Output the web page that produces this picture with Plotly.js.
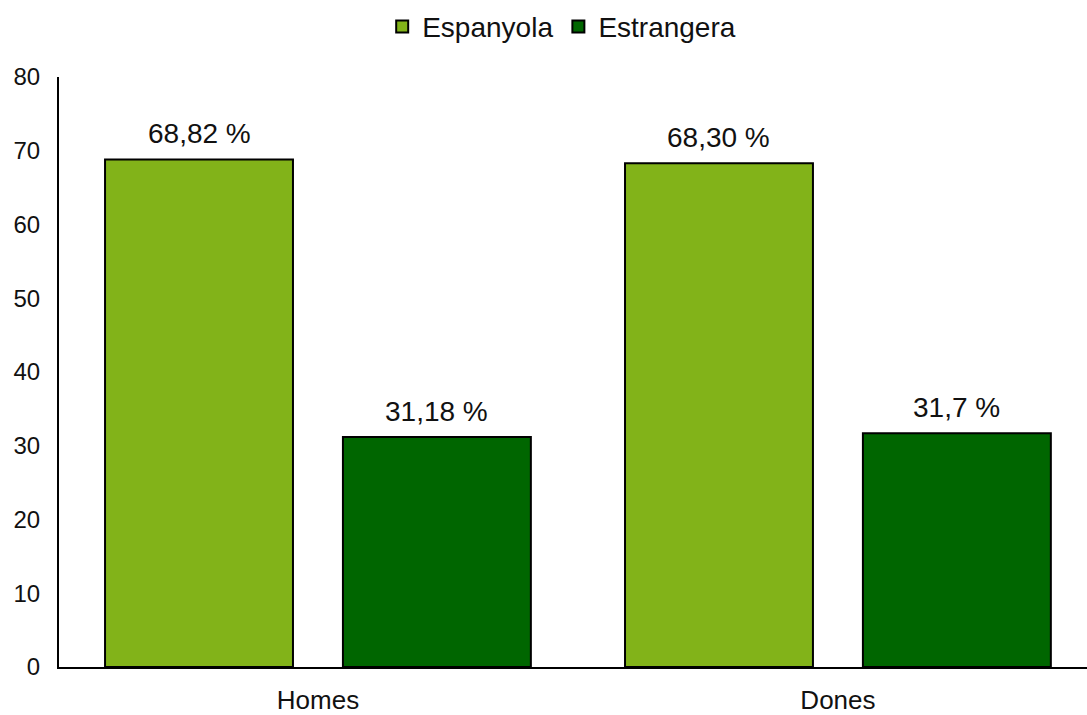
<!DOCTYPE html>
<html>
<head>
<meta charset="utf-8">
<script src="https://cdn.plot.ly/plotly-3.0.1.min.js"></script>
<style>html,body{margin:0;padding:0;background:#fff;}#chart{width:1087px;height:715px;}</style>
</head>
<body>
<div id="chart"></div>
<script>
const categories = ["Homes", "Dones"];
const espanyola = [68.82, 68.30];
const estrangera = [31.18, 31.7];
const espanyolaLabels = ["68,82 %", "68,30 %"];
const estrangeraLabels = ["31,18 %", "31,7 %"];
const yTicks = [0, 10, 20, 30, 40, 50, 60, 70, 80];

const xPos = categories.map((c, i) => i);
const fam = "Liberation Sans, Arial, sans-serif";
const col = "#111";
const bargap = 0.085;
const sub = (1 - bargap) / 2;

const series = [
  {name: "Espanyola", y: espanyola, labels: espanyolaLabels, color: "#82B319"},
  {name: "Estrangera", y: estrangera, labels: estrangeraLabels, color: "#006600"}
];

const traces = series.map(s => ({
  type: "bar", name: s.name, x: xPos, y: s.y, hoverinfo: "none",
  marker: {color: s.color, line: {color: "#000", width: 2}}
}));

const annotations = [];
series.forEach((s, k) => {
  s.y.forEach((v, i) => {
    annotations.push({
      x: xPos[i] + (k - 0.5) * sub, y: v, xref: "x", yref: "y",
      text: s.labels[i], showarrow: false, yanchor: "bottom", yshift: 8,
      font: {family: fam, size: 28, color: col}
    });
  });
});

const layout = {
  width: 1087, height: 715,
  margin: {l: 59, r: 0, t: 77, b: 48},
  paper_bgcolor: "#fff", plot_bgcolor: "#fff",
  font: {family: fam, size: 24, color: col},
  barmode: "group", bargap: bargap, bargroupgap: 0.21,
  showlegend: true,
  legend: {orientation: "h", x: 0.489, xanchor: "center", y: 1.085, yanchor: "middle",
           font: {family: fam, size: 28, color: col}, itemwidth: 30, tracegroupgap: 0},
  annotations: annotations,
  xaxis: {range: [-0.498, 1.479], tickvals: xPos, ticktext: categories, showgrid: false, zeroline: false,
          showline: true, linecolor: "#000", linewidth: 2, ticks: "", ticklabelstandoff: 9,
          tickfont: {family: fam, size: 26, color: col}, fixedrange: true},
  yaxis: {range: [0, 80], tickvals: yTicks, showgrid: false, zeroline: false,
          showline: true, linecolor: "#000", linewidth: 2, ticks: "", ticklabelstandoff: 12,
          tickfont: {family: fam, size: 24, color: col}, fixedrange: true}
};

Plotly.newPlot("chart", traces, layout, {displayModeBar: false, staticPlot: true});
</script>
</body>
</html>
